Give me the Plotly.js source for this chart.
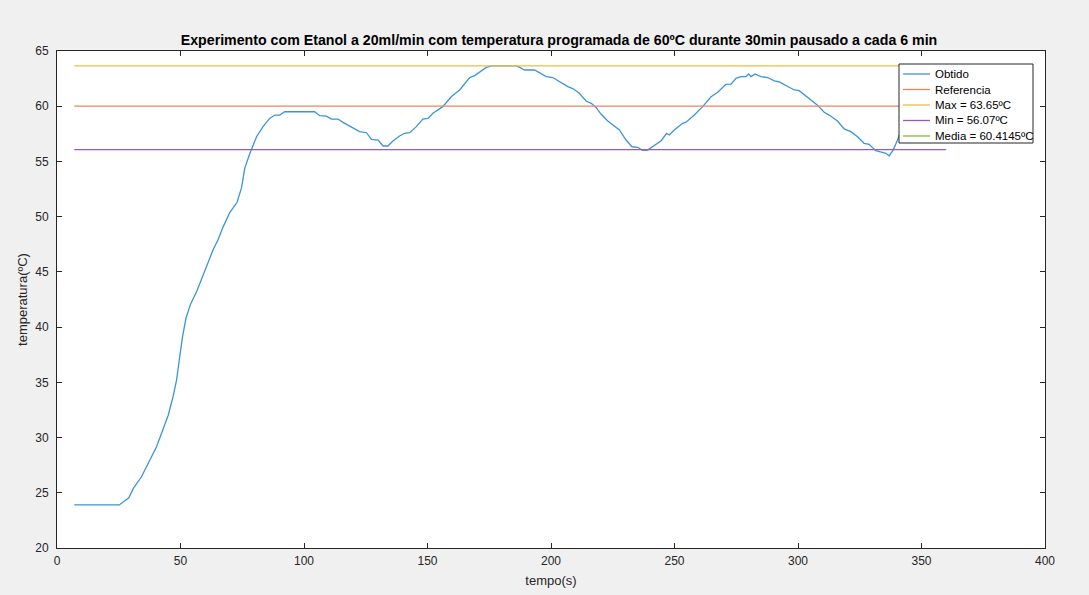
<!DOCTYPE html>
<html>
<head>
<meta charset="utf-8">
<script src="https://cdn.plot.ly/plotly-3.0.1.min.js"></script>
<style>
html,body{margin:0;padding:0;background:#f0f0f0;}
#chart{width:1089px;height:595px;}
</style>
</head>
<body>
<div id="chart"></div>
<script>
// time (s)
var tempo = [
  7, 25.2, 29.1, 30.9, 34.2, 37.6, 40.3, 43.0, 45.0, 47.0,
  48.4, 49.5, 50.8, 52.2, 54.1, 56.5, 58.9, 60.8, 63.2, 65.2,
  67.3, 70.0, 72.9, 74.7, 76.0, 78.1, 80.8, 83.4, 86.1, 88.2,
  90.2, 92.2, 104.3, 106.4, 109.1, 111.1, 113.8, 115.8, 118.5, 120.5,
  122.5, 125.3, 127.3, 130.0, 132.0, 134.0, 136.0, 138.7, 140.7, 142.8,
  145.5, 148.1, 150.2, 152.2, 156.2, 159.6, 163.0, 167.0, 169.1, 173.8,
  176, 181, 186, 187.3, 189.3, 193.3, 198.1, 200.7, 203.4, 206.8,
  208.8, 211.5, 214.2, 216.3, 218.3, 220.3, 223.0, 225.7, 227.7, 230.4,
  232.8, 235.1, 237.1, 239.1, 241.9, 244.6, 246.8, 247.9, 249.9, 253.3,
  254.7, 258.0, 261.4, 264.8, 267.5, 270.8, 272.9, 274.9, 276.9, 278.9,
  280.0, 281.0, 282.6, 285.0, 287.7, 290.4, 292.4, 295.1, 298.5, 300.5,
  303.2, 305.9, 307.9, 310.6, 312.6, 316.0, 318.7, 321.4, 324.1, 326.8,
  328.8, 331.5, 333.5, 335.6, 336.9, 338.5, 340.3, 342
];
// measured temperature (ºC)
var obtido = [
  23.9, 23.9, 24.55, 25.4, 26.45, 27.97, 29.17, 30.8, 32.0, 33.7,
  35.2, 37.0, 39.1, 40.8, 42.1, 43.2, 44.56, 45.5, 47.0, 47.9,
  49.1, 50.4, 51.3, 52.6, 54.38, 55.74, 57.24, 58.15, 58.9, 59.2,
  59.2, 59.5, 59.5, 59.14, 59.1, 58.84, 58.84, 58.54, 58.2, 58.0,
  57.7, 57.6, 57.0, 56.94, 56.4, 56.4, 56.85, 57.3, 57.55, 57.6,
  58.15, 58.84, 58.9, 59.36, 59.96, 60.86, 61.47, 62.58, 62.77, 63.52,
  63.65, 63.65, 63.65, 63.52, 63.28, 63.28, 62.68, 62.6, 62.2, 61.77,
  61.6, 61.17, 60.47, 60.26, 59.87, 59.27, 58.66, 58.2, 57.85, 56.94,
  56.33, 56.28, 56.0, 56.03, 56.5, 56.88, 57.55, 57.4, 57.85, 58.45,
  58.55, 59.2, 59.96, 60.86, 61.26, 61.98, 62.0, 62.53, 62.68, 62.68,
  62.92, 62.68, 62.92, 62.68, 62.6, 62.3, 62.2, 61.86, 61.47, 61.41,
  60.92, 60.41, 60.1, 59.45, 59.2, 58.66, 57.94, 57.7, 57.24, 56.64,
  56.55, 55.97, 55.83, 55.74, 55.5, 56.03, 56.94, 58.0
];
var lineSpan = [7, 360];
var referencia = 60;
var maxValue = 63.65;
var minValue = 56.07;
var mediaValue = 60.4145;
var legendNames = ['Obtido', 'Referencia', 'Max = 63.65ºC', 'Min = 56.07ºC', 'Media = 60.4145ºC'];
var xTicks = [0, 50, 100, 150, 200, 250, 300, 350, 400];
var yTicks = [20, 25, 30, 35, 40, 45, 50, 55, 60, 65];

var colors = ['#3b95d6', '#ec8558', '#f0bd45', '#9d5aae', '#7fb83e'];
var FONT = 'Liberation Sans, Arial, sans-serif';

var traces = [
  {x: tempo, y: obtido, mode: 'lines', name: legendNames[0], line: {color: colors[0], width: 1.3}},
  {x: lineSpan, y: [referencia, referencia], mode: 'lines', name: legendNames[1], line: {color: colors[1], width: 1.3}},
  {x: lineSpan, y: [maxValue, maxValue], mode: 'lines', name: legendNames[2], line: {color: colors[2], width: 1.3}},
  {x: lineSpan, y: [minValue, minValue], mode: 'lines', name: legendNames[3], line: {color: colors[3], width: 1.3}},
  {x: [null], y: [mediaValue], mode: 'lines', name: legendNames[4], line: {color: colors[4], width: 1.3}}
];

// plot-area geometry (px) used to place the custom legend box
var L = 57, R = 1045, T = 51, B = 548;
function px2x(p) { return (p - L) / (R - L); }
function px2y(p) { return (B - p) / (B - T); }

var shapes = [{
  type: 'rect', xref: 'paper', yref: 'paper',
  x0: px2x(899), x1: px2x(1033), y0: px2y(143), y1: px2y(64),
  fillcolor: '#ffffff', line: {color: '#262626', width: 1}, layer: 'above'
}];
var annotations = [];
var itemY = [74, 89.5, 105, 120.5, 136];
legendNames.forEach(function (nm, i) {
  shapes.push({
    type: 'line', xref: 'paper', yref: 'paper',
    x0: px2x(903), x1: px2x(930), y0: px2y(itemY[i]), y1: px2y(itemY[i]),
    line: {color: colors[i], width: 1.3}, layer: 'above'
  });
  annotations.push({
    xref: 'paper', yref: 'paper', x: px2x(933), y: px2y(itemY[i]),
    xanchor: 'left', yanchor: 'middle', showarrow: false, text: nm,
    font: {family: FONT, size: 11.5, color: '#000000'}
  });
});

var axisCommon = {
  showline: true, mirror: 'ticks', linecolor: '#262626', linewidth: 1,
  ticks: 'inside', ticklen: 5, tickcolor: '#262626', tickwidth: 1,
  showgrid: false, zeroline: false,
  tickfont: {family: FONT, size: 12, color: '#262626'}
};

var layout = {
  width: 1089, height: 595,
  paper_bgcolor: '#f0f0f0', plot_bgcolor: '#ffffff',
  margin: {l: L, r: 1089 - R, t: T, b: 595 - B, pad: 0},
  showlegend: false,
  title: {
    text: 'Experimento com Etanol a 20ml/min com temperatura programada de 60ºC durante 30min pausado a cada 6 min',
    font: {family: FONT, size: 14.2, color: '#000000', weight: 'bold'},
    x: px2x(559), xref: 'paper', xanchor: 'center',
    y: 1 - 40 / 595, yref: 'container', yanchor: 'middle'
  },
  xaxis: Object.assign({}, axisCommon, {
    range: [0, 400], tickvals: xTicks, ticktext: xTicks.map(String),
    ticklabelstandoff: 2,
    title: {text: 'tempo(s)', font: {family: FONT, size: 13, color: '#262626'}, standoff: 8}
  }),
  yaxis: Object.assign({}, axisCommon, {
    range: [20, 65], tickvals: yTicks, ticktext: yTicks.map(String),
    ticklabelstandoff: 5,
    title: {text: 'temperatura(ºC)', font: {family: FONT, size: 13, color: '#262626'}, standoff: 4}
  }),
  shapes: shapes,
  annotations: annotations
};

Plotly.newPlot('chart', traces, layout, {displayModeBar: false, staticPlot: true});
</script>
</body>
</html>
